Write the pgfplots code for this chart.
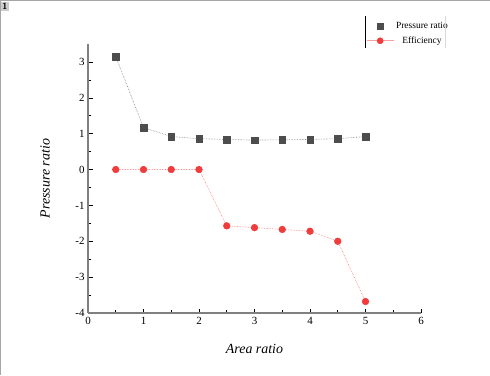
\documentclass[border=0pt]{standalone}
\usepackage{pgfplots}
\pgfplotsset{compat=1.18}
\usepackage{fontspec}
\setmainfont{Liberation Serif}
\definecolor{pgray}{HTML}{4D4D4D}
\definecolor{ered}{HTML}{F03C3C}
\begin{document}
\begin{tikzpicture}[x=1bp,y=1bp]
\useasboundingbox (0,0) rectangle (490,375);
\draw[gray!70, line width=1bp] (0.5,0) -- (0.5,374.5) -- (490,374.5);
\node[fill=gray!40, inner sep=1.2bp, font=\fontsize{9}{10}\selectfont\bfseries\sffamily, anchor=north west] at (1,373.5) {1};
\begin{axis}[
  at={(88bp,62bp)}, anchor=south west, scale only axis,
  width=333bp, height=269bp,
  xmin=0, xmax=6, ymin=-4, ymax=3.5,
  axis lines=left,
  axis line style={-, gray, line width=1.2bp},
  xtick={0,...,6}, ytick={-4,...,3},
  minor x tick num=1, minor y tick num=1,
  tick style={black, line width=0.6bp},
  major tick length=4.5bp, minor tick length=3bp,
  tick align=inside,
  /pgf/number format/assume math mode=true,
  ticklabel style={font=\fontsize{11}{12}\selectfont},
  xticklabel style={yshift=-1bp},
  xlabel={\textit{Area ratio}}, ylabel={\textit{Pressure ratio}},
  label style={font=\fontsize{14}{16}\selectfont},
  xlabel style={at={(axis description cs:0.5,-0.134)}, anchor=center},
  ylabel style={at={(axis description cs:-0.129,0.5)}, anchor=center},
  legend style={at={(0.832,1.092)}, anchor=north west, draw=none, fill=none,
    font=\fontsize{9.5}{11}\selectfont, row sep=2.5bp, inner sep=1bp},
  legend cell align=center,
  clip=false,
]
\addplot[pgray!70, line width=0.6bp, densely dotted, forget plot] coordinates {
(0.5,3.15) (1,1.17) (1.5,0.92) (2,0.86) (2.5,0.84) (3,0.82) (3.5,0.83) (4,0.84) (4.5,0.86) (5,0.92)};
\addplot[only marks, mark=square*, mark size=3.3bp, pgray, mark options={draw=pgray, fill=pgray},
  legend image code/.code={\draw[mark size=3bp] plot coordinates {(13.5bp,0bp)};}] coordinates {
(0.5,3.15) (1,1.17) (1.5,0.92) (2,0.86) (2.5,0.84) (3,0.82) (3.5,0.83) (4,0.84) (4.5,0.86) (5,0.92)};
\addlegendentry{Pressure ratio}
\addplot[ered!70, line width=0.6bp, densely dotted, mark=*, mark size=3.3bp,
  mark options={solid, draw=ered, fill=ered},
  legend image code/.code={\draw[solid, ered!50, line width=0.8bp] (0bp,0bp) -- (27bp,0bp);
    \draw[mark size=3bp] plot coordinates {(13.5bp,0bp)};}] coordinates {
(0.5,0) (1,0) (1.5,0) (2,0) (2.5,-1.57) (3,-1.62) (3.5,-1.67) (4,-1.72) (4.5,-2.0) (5,-3.68)};
\addlegendentry{Efficiency}
\end{axis}
\draw[black, line width=0.7bp] (365,327) -- (365,359);
\draw[gray!30, line width=0.7bp] (445,327) -- (445,359);
\end{tikzpicture}
\end{document}
